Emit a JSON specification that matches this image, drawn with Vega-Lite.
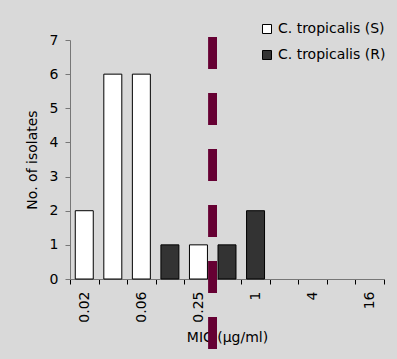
{
  "$schema": "https://vega.github.io/schema/vega-lite/v6.json",
  "autosize": {"type": "none"},
  "width": 314,
  "height": 239,
  "padding": {"left": 70, "top": 40, "right": 13, "bottom": 80},
  "background": "#d9d9d9",
  "title": {"text": "y", "fontSize": 32, "fontWeight": "bold", "font": "DejaVu Sans", "anchor": "middle", "frame": "group", "dx": -14, "offset": 31, "baseline": "bottom", "color": "black"},
  "config": {
    "view": {"stroke": null},
    "font": "DejaVu Sans",
    "axis": {"grid": false, "labelColor": "black", "titleColor": "black", "titleFontWeight": "normal"}
  },
  "data": {
    "values": [
      {"mic": "0.02", "series": "C. tropicalis (S)", "count": 2},
      {"mic": "0.03", "series": "C. tropicalis (S)", "count": 6},
      {"mic": "0.06", "series": "C. tropicalis (S)", "count": 6},
      {"mic": "0.12", "series": "C. tropicalis (R)", "count": 1},
      {"mic": "0.25", "series": "C. tropicalis (S)", "count": 1},
      {"mic": "0.5", "series": "C. tropicalis (R)", "count": 1},
      {"mic": "1", "series": "C. tropicalis (R)", "count": 2}
    ]
  },
  "layer": [
    {
      "mark": {"type": "bar", "width": {"band": 0.63}, "stroke": "black", "strokeWidth": 1},
      "encoding": {
        "x": {
          "field": "mic", "type": "ordinal", "sort": null,
          "scale": {"domain": ["0.02", "0.03", "0.06", "0.12", "0.25", "0.5", "1", "2", "4", "8", "16"], "paddingInner": 0, "paddingOuter": 0},
          "axis": {
            "title": "MIC (µg/ml)", "titleFontSize": 14, "titlePadding": 8,
            "labelAngle": -90, "labelFontSize": 14, "labelPadding": 7,
            "labelExpr": "indexof(['0.02','0.06','0.25','1','4','16'], datum.value) >= 0 ? datum.label : ''",
            "tickBand": "extent", "tickSize": 5, "tickColor": "black", "domainColor": "#777777"
          }
        },
        "y": {
          "field": "count", "type": "quantitative",
          "scale": {"domain": [0, 7], "nice": false},
          "axis": {
            "title": "No. of isolates", "titleFontSize": 14, "titlePadding": 10,
            "values": [0, 1, 2, 3, 4, 5, 6, 7], "labelOverlap": false, "labelFontSize": 14, "labelPadding": 7,
            "tickSize": 5, "tickColor": "#777777", "domainColor": "#777777"
          }
        },
        "color": {
          "field": "series", "type": "nominal",
          "scale": {"domain": ["C. tropicalis (S)", "C. tropicalis (R)"], "range": ["#ffffff", "#333333"]},
          "legend": {
            "title": null, "orient": "none", "legendX": 190, "legendY": -18,
            "symbolType": "square", "symbolSize": 81, "symbolStrokeColor": "black", "symbolStrokeWidth": 1,
            "labelFontSize": 14, "labelColor": "black", "rowPadding": 12, "labelOffset": 4
          }
        }
      }
    },
    {
      "mark": {"type": "rule", "color": "#660033", "strokeWidth": 8, "strokeDash": [32, 24], "strokeCap": "butt"},
      "encoding": {
        "x": {"datum": "0.25", "type": "ordinal", "bandPosition": 1,
          "axis": {
            "title": "MIC (µg/ml)", "titleFontSize": 14, "titlePadding": 8,
            "labelAngle": -90, "labelFontSize": 14, "labelPadding": 7,
            "labelExpr": "indexof(['0.02','0.06','0.25','1','4','16'], datum.value) >= 0 ? datum.label : ''",
            "tickBand": "extent", "tickSize": 5, "tickColor": "black", "domainColor": "#777777"
          }
        },
        "y": {"datum": 7.09, "type": "quantitative",
          "axis": {
            "title": "No. of isolates", "titleFontSize": 14, "titlePadding": 10,
            "values": [0, 1, 2, 3, 4, 5, 6, 7], "labelOverlap": false, "labelFontSize": 14, "labelPadding": 7,
            "tickSize": 5, "tickColor": "#777777", "domainColor": "#777777"
          }
        },
        "y2": {"datum": -2.05}
      }
    }
  ]
}
